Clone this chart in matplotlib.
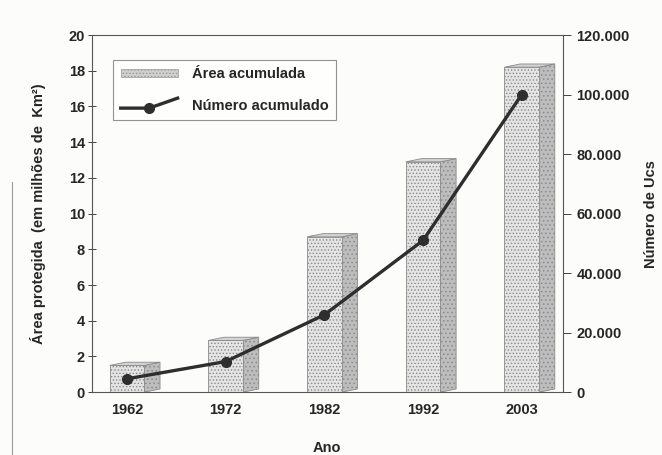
import matplotlib
matplotlib.use("Agg")
import matplotlib.pyplot as plt
from matplotlib.patches import Polygon, Rectangle
from matplotlib.lines import Line2D
from matplotlib.legend_handler import HandlerBase
from matplotlib.ticker import FuncFormatter, MultipleLocator

anos = ["1962", "1972", "1982", "1992", "2003"]
area_acumulada = [1.5, 2.9, 8.7, 12.9, 18.2]          # milhões de km²
numero_acumulado = [4500, 10300, 26000, 51000, 100000]  # número de UCs

plt.rcParams['font.family'] = ['Liberation Sans', 'DejaVu Sans']
plt.rcParams['font.weight'] = 'bold'
plt.rcParams['axes.labelweight'] = 'bold'
plt.rcParams['hatch.color'] = '#a8a8a8'
plt.rcParams['hatch.linewidth'] = 0.6

ink = '#262626'
front_col = '#e4e4e4'
side_col = '#bdbdbd'
top_col = '#d2d2d2'

fig = plt.figure(figsize=(6.62, 4.55), dpi=100)
fig.patch.set_facecolor('#fcfcfa')
ax = fig.add_axes([0.139, 0.138, 0.711, 0.785])
ax.set_facecolor('none')

x = list(range(len(anos)))
w = 0.35
dx, dy = 0.16, 0.18

bars = ax.bar(x, area_acumulada, width=w, color=front_col, edgecolor='#8a8a8a',
              linewidth=0.6, hatch='.....', zorder=2)
# fake 3D depth: side and top faces from each bar
for b in bars:
    x0, x1, h = b.get_x(), b.get_x() + b.get_width(), b.get_height()
    ax.add_patch(Polygon([(x1, 0), (x1 + dx, dy), (x1 + dx, h + dy), (x1, h)],
                         closed=True, facecolor=side_col, edgecolor='#8a8a8a',
                         linewidth=0.6, hatch='....', zorder=1.9))
    ax.add_patch(Polygon([(x0, h), (x1, h), (x1 + dx, h + dy), (x0 + dx, h + dy)],
                         closed=True, facecolor=top_col, edgecolor='#8a8a8a',
                         linewidth=0.6, zorder=1.9))

ax.set_xlim(-0.354, 4.415)
ax.set_ylim(0, 20)
ax.yaxis.set_major_locator(MultipleLocator(2))
ax.set_xticks(x)
ax.set_xticklabels(anos)
ax.tick_params(axis='x', length=0, pad=8, labelsize=10.5, colors=ink)
ax.tick_params(axis='y', direction='inout', length=6, width=0.6,
               labelsize=10.5, colors=ink, pad=2)
for s in ['left', 'right', 'top', 'bottom']:
    ax.spines[s].set_linewidth(0.8)
    ax.spines[s].set_color('#555555')
ax.spines['right'].set_visible(False)

ax.set_ylabel("Área protegida  (em milhões de  Km²)", fontsize=10.5,
              color=ink, labelpad=16)
ax.set_xlabel("Ano", fontsize=10.5, color=ink, labelpad=17)

ax2 = ax.twinx()
ax2.set_ylim(0, 120000)
ax2.yaxis.set_major_locator(MultipleLocator(20000))
ax2.yaxis.set_major_formatter(FuncFormatter(
    lambda v, p: f"{int(v):,}".replace(",", ".")))
ax2.plot(x, numero_acumulado, color='#2e2e2e', linewidth=2.4, marker='o',
         markersize=7, zorder=3)
ax2.tick_params(axis='y', direction='out', length=6, width=0.6,
                labelsize=10.5, colors=ink, pad=4)
ax2.spines['right'].set_linewidth(0.8)
ax2.spines['right'].set_color('#555555')
for s in ['left', 'top', 'bottom']:
    ax2.spines[s].set_visible(False)
ax2.set_ylabel("Número de Ucs", fontsize=10.5, color=ink, labelpad=10)

for lab in ax.get_xticklabels() + ax.get_yticklabels() + ax2.get_yticklabels():
    lab.set_fontweight('bold')


class KinkLine(HandlerBase):
    def create_artists(self, legend, orig_handle, xdescent, ydescent,
                       width, height, fontsize, trans):
        x0 = -xdescent
        y0 = -ydescent
        xs = [x0, x0 + width * 0.5, x0 + width]
        ys = [y0 + height * 0.1, y0 + height * 0.1, y0 + height * 1.3]
        line = Line2D(xs, ys, color='#2e2e2e', linewidth=2.4, transform=trans)
        dot = Line2D([xs[1]], [ys[1]], marker='o', markersize=7,
                     color='#2e2e2e', transform=trans)
        return [line, dot]


area_handle = Rectangle((0, 0), 1, 1, facecolor='#cfcfcf', edgecolor='#9a9a9a',
                        linewidth=0.5, hatch='.....')
num_handle = Line2D([], [])
leg = ax.legend([area_handle, num_handle],
                ["Área acumulada", "Número acumulado"],
                handler_map={Line2D: KinkLine()},
                loc='upper left', bbox_to_anchor=(0.03, 0.95),
                prop={'size': 10.5, 'weight': 'bold'},
                frameon=True, fancybox=False,
                handlelength=3.9, handleheight=0.5, handletextpad=1.0,
                labelspacing=1.2, borderpad=0.5)
leg.get_frame().set_edgecolor('#777777')
leg.get_frame().set_linewidth(0.8)
for t in leg.get_texts():
    t.set_color(ink)

# scanned page edge
fig.add_artist(Line2D([12 / 662, 12 / 662], [0, 0.6], color='#9a9a9a',
                      linewidth=0.8, transform=fig.transFigure))

fig.savefig("out.png", dpi=100, facecolor=fig.get_facecolor())
